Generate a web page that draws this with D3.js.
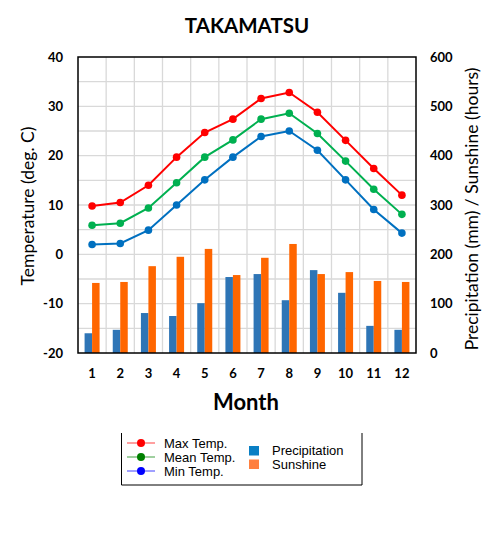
<!DOCTYPE html>
<html>
<head>
<meta charset="utf-8">
<script src="https://cdn.jsdelivr.net/npm/d3@7"></script>
<style>
body { margin: 0; background: #fff; }
svg { display: block; }
</style>
</head>
<body>
<svg id="chart" width="498" height="553"></svg>
<script>
var months = [1, 2, 3, 4, 5, 6, 7, 8, 9, 10, 11, 12]
var maxTemp = [9.8, 10.5, 14.0, 19.7, 24.7, 27.4, 31.6, 32.8, 28.8, 23.1, 17.4, 12.0]
var meanTemp = [5.9, 6.3, 9.4, 14.5, 19.7, 23.2, 27.4, 28.6, 24.5, 18.9, 13.2, 8.1]
var minTemp = [2.0, 2.2, 4.9, 10.0, 15.1, 19.7, 23.9, 25.0, 21.1, 15.1, 9.1, 4.3]
var precip = [40, 47, 81, 75, 101, 154, 160, 107, 168, 122, 55, 47]
var sunshine = [142, 144, 176, 195, 211, 158, 193, 221, 160, 164, 146, 144]
var tempTicks = [-20, -10, 0, 10, 20, 30, 40]
var rightTicks = [0, 100, 200, 300, 400, 500, 600]

// plot area edges (window.top is read-only, so no plain "top")
var plotL = 78, plotR = 416, plotT = 57, plotB = 353
var svg = d3.select("#chart")
var tickFont = "Lato, 'Open Sans', sans-serif"

var x = d3.scaleBand().domain(months).range([plotL, plotR])
var yT = d3.scaleLinear().domain([-20, 40]).range([plotB, plotT])
var yR = d3.scaleLinear().domain([0, 600]).range([plotB, plotT])
var cx = function(d, i){ return x(months[i]) + x.bandwidth() / 2 }

// grid
svg.append("g").selectAll("line")
.data(d3.range(-15, 40, 5))
.enter().append("line")
.attr("x1", plotL).attr("x2", plotR)
.attr("y1", function(d){ return yT(d) }).attr("y2", function(d){ return yT(d) })
.attr("stroke", "#d9d9d9").attr("stroke-width", 1.3)

svg.append("g").selectAll("line")
.data(months.slice(1))
.enter().append("line")
.attr("x1", function(d){ return x(d) }).attr("x2", function(d){ return x(d) })
.attr("y1", plotT).attr("y2", plotB)
.attr("stroke", "#d9d9d9").attr("stroke-width", 1.3)

// bars
var bw = 7.5
svg.append("g").selectAll("rect")
.data(precip)
.enter().append("rect")
.attr("x", function(d, i){ return cx(d, i) - bw })
.attr("y", function(d){ return yR(d) })
.attr("width", bw)
.attr("height", function(d){ return plotB - yR(d) })
.attr("fill", "#2e75b6")

svg.append("g").selectAll("rect")
.data(sunshine)
.enter().append("rect")
.attr("x", cx)
.attr("y", function(d){ return yR(d) })
.attr("width", bw)
.attr("height", function(d){ return plotB - yR(d) })
.attr("fill", "#ff6600")

// lines
var series = [
  {values: maxTemp, color: "#ff0000"},
  {values: meanTemp, color: "#00b050"},
  {values: minTemp, color: "#0070c0"}
]
var line = d3.line()
.x(cx)
.y(function(d){ return yT(d) })

series.forEach(function(s){
  svg.append("path")
  .attr("d", line(s.values))
  .attr("fill", "none")
  .attr("stroke", s.color)
  .attr("stroke-width", 2)
  svg.append("g").selectAll("circle")
  .data(s.values)
  .enter().append("circle")
  .attr("cx", cx)
  .attr("cy", function(d){ return yT(d) })
  .attr("r", 3.8)
  .attr("fill", s.color)
})

// frame
svg.append("rect")
.attr("x", plotL).attr("y", plotT)
.attr("width", plotR - plotL).attr("height", plotB - plotT)
.attr("fill", "none").attr("stroke", "#000").attr("stroke-width", 1.5)

// tick labels
svg.append("g").selectAll("text")
.data(tempTicks)
.enter().append("text")
.attr("x", 63).attr("y", function(d){ return yT(d) + 4.5 })
.attr("text-anchor", "end")
.style("font", "bold 13px " + tickFont)
.text(function(d){ return d })

svg.append("g").selectAll("text")
.data(rightTicks)
.enter().append("text")
.attr("x", 430).attr("y", function(d){ return yR(d) + 4.5 })
.style("font", "bold 13px " + tickFont)
.text(function(d){ return d })

svg.append("g").selectAll("text")
.data(months)
.enter().append("text")
.attr("x", function(d){ return x(d) + x.bandwidth() / 2 })
.attr("y", 378)
.attr("text-anchor", "middle")
.style("font", "bold 13px " + tickFont)
.text(function(d){ return d })

// titles
svg.append("text")
.attr("x", 247).attr("y", 33)
.attr("text-anchor", "middle")
.style("font", "bold 20.5px " + tickFont)
.text("TAKAMATSU")

svg.append("text")
.attr("x", 246).attr("y", 410)
.attr("text-anchor", "middle")
.style("font", "bold 22px " + tickFont)
.text("Month")

svg.append("text")
.attr("transform", "translate(34,206) rotate(-90)")
.attr("text-anchor", "middle")
.style("font", "17.5px " + tickFont)
.text("Temperature (deg. C)")

svg.append("text")
.attr("transform", "translate(478,209) rotate(-90)")
.attr("text-anchor", "middle")
.style("font", "17.5px " + tickFont)
.text("Precipitation (mm) / Sunshine (hours)")

// legend
var lg = svg.append("g")
lg.append("path")
.attr("d", "M121.5,433V485H362V433")
.attr("fill", "none").attr("stroke", "#000").attr("stroke-width", 1)

var legendLines = [
  {name: "Max Temp.", line: "#ff8080", dot: "#ff0000"},
  {name: "Mean Temp.", line: "#80c080", dot: "#008000"},
  {name: "Min Temp.", line: "#8080ff", dot: "#0000ff"}
]
legendLines.forEach(function(d, i){
  var yy = 443 + i * 14
  lg.append("line")
  .attr("x1", 127).attr("x2", 155).attr("y1", yy).attr("y2", yy)
  .attr("stroke", d.line).attr("stroke-width", 1.5)
  lg.append("circle").attr("cx", 141).attr("cy", yy).attr("r", 4).attr("fill", d.dot)
  lg.append("text")
  .attr("x", 164).attr("y", yy + 5)
  .style("font", "13px 'Liberation Sans', Arial, sans-serif")
  .text(d.name)
})

var legendBars = [
  {name: "Precipitation", color: "#0a7fc4"},
  {name: "Sunshine", color: "#ff8040"}
]
legendBars.forEach(function(d, i){
  var yy = 446 + i * 13.5
  lg.append("rect")
  .attr("x", 249).attr("y", yy).attr("width", 10).attr("height", 9.5)
  .attr("fill", d.color)
  lg.append("text")
  .attr("x", 272).attr("y", yy + 9)
  .style("font", "13px 'Liberation Sans', Arial, sans-serif")
  .text(d.name)
})
</script>
</body>
</html>
